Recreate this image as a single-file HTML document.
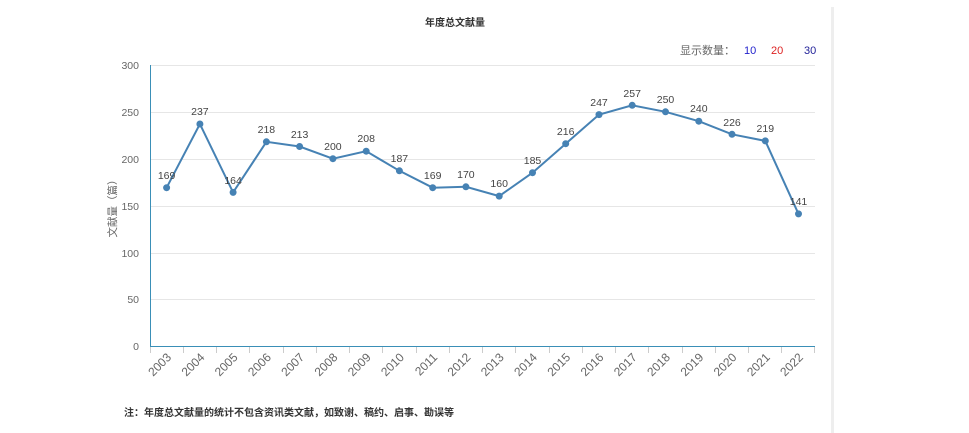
<!DOCTYPE html>
<html><head><meta charset="utf-8"><style>
body{margin:0;background:#fff;}
svg{display:block;font-family:"Liberation Sans","Noto Sans CJK SC",sans-serif;}
</style></head><body>
<svg width="969" height="433" viewBox="0 0 969 433" xmlns="http://www.w3.org/2000/svg">
<rect x="0" y="0" width="969" height="433" fill="#fff"/>
<rect x="831" y="7" width="3" height="426" fill="#eeeeee"/>
<text x="455" y="26" font-size="10" font-weight="bold" fill="#333" text-anchor="middle">年度总文献量</text>
<text x="680" y="54" font-size="11" fill="#666">显示数量：</text>
<text x="744" y="54" font-size="11" fill="#2222cc">10</text>
<text x="771" y="54" font-size="11" fill="#dd2222">20</text>
<text x="804" y="54" font-size="11" fill="#222299">30</text>
<g stroke="#e6e6e6" stroke-width="1">
<line x1="150" y1="65.5" x2="815" y2="65.5"/>
<line x1="150" y1="112.5" x2="815" y2="112.5"/>
<line x1="150" y1="159.5" x2="815" y2="159.5"/>
<line x1="150" y1="206.5" x2="815" y2="206.5"/>
<line x1="150" y1="253.5" x2="815" y2="253.5"/>
<line x1="150" y1="299.5" x2="815" y2="299.5"/>
</g>
<g font-size="10.5" fill="#666" text-anchor="end">
<text x="139" y="69">300</text><text x="139" y="116">250</text><text x="139" y="163">200</text>
<text x="139" y="210">150</text><text x="139" y="257">100</text><text x="139" y="303">50</text><text x="139" y="350">0</text>
</g>
<text transform="translate(116,206) rotate(-90)" font-size="10.5" fill="#666" text-anchor="middle">文献量（篇）</text>
<line x1="150.5" y1="65" x2="150.5" y2="346" stroke="#3a8fb7" stroke-width="1"/>
<line x1="150" y1="346.5" x2="815" y2="346.5" stroke="#3a8fb7" stroke-width="1"/>
<g stroke="#ccc" stroke-width="1">
<line x1="150.5" y1="347" x2="150.5" y2="353"/><line x1="183.5" y1="347" x2="183.5" y2="353"/><line x1="216.5" y1="347" x2="216.5" y2="353"/><line x1="249.5" y1="347" x2="249.5" y2="353"/><line x1="283.5" y1="347" x2="283.5" y2="353"/><line x1="316.5" y1="347" x2="316.5" y2="353"/><line x1="349.5" y1="347" x2="349.5" y2="353"/><line x1="382.5" y1="347" x2="382.5" y2="353"/><line x1="416.5" y1="347" x2="416.5" y2="353"/><line x1="449.5" y1="347" x2="449.5" y2="353"/><line x1="482.5" y1="347" x2="482.5" y2="353"/><line x1="515.5" y1="347" x2="515.5" y2="353"/><line x1="549.5" y1="347" x2="549.5" y2="353"/><line x1="582.5" y1="347" x2="582.5" y2="353"/><line x1="615.5" y1="347" x2="615.5" y2="353"/><line x1="648.5" y1="347" x2="648.5" y2="353"/><line x1="682.5" y1="347" x2="682.5" y2="353"/><line x1="715.5" y1="347" x2="715.5" y2="353"/><line x1="748.5" y1="347" x2="748.5" y2="353"/><line x1="781.5" y1="347" x2="781.5" y2="353"/><line x1="814.5" y1="347" x2="814.5" y2="353"/>
</g>
<g font-size="12" fill="#666" text-anchor="end">
<text transform="translate(172,358) rotate(-45)">2003</text>
<text transform="translate(205.3,358) rotate(-45)">2004</text>
<text transform="translate(238.5,358) rotate(-45)">2005</text>
<text transform="translate(271.8,358) rotate(-45)">2006</text>
<text transform="translate(305,358) rotate(-45)">2007</text>
<text transform="translate(338.3,358) rotate(-45)">2008</text>
<text transform="translate(371.6,358) rotate(-45)">2009</text>
<text transform="translate(404.8,358) rotate(-45)">2010</text>
<text transform="translate(438.1,358) rotate(-45)">2011</text>
<text transform="translate(471.3,358) rotate(-45)">2012</text>
<text transform="translate(504.6,358) rotate(-45)">2013</text>
<text transform="translate(537.9,358) rotate(-45)">2014</text>
<text transform="translate(571.1,358) rotate(-45)">2015</text>
<text transform="translate(604.4,358) rotate(-45)">2016</text>
<text transform="translate(637.6,358) rotate(-45)">2017</text>
<text transform="translate(670.9,358) rotate(-45)">2018</text>
<text transform="translate(704.2,358) rotate(-45)">2019</text>
<text transform="translate(737.4,358) rotate(-45)">2020</text>
<text transform="translate(770.7,358) rotate(-45)">2021</text>
<text transform="translate(803.9,358) rotate(-45)">2022</text>
</g>
<polyline fill="none" stroke="#4682b4" stroke-width="2" points="166.6,187.7 199.9,124.0 233.1,192.4 266.4,141.8 299.6,146.5 332.9,158.7 366.2,151.2 399.4,170.8 432.7,187.7 465.9,186.8 499.2,196.1 532.5,172.7 565.7,143.7 599.0,114.6 632.2,105.3 665.5,111.8 698.8,121.2 732.0,134.3 765.3,140.9 798.5,213.9"/>
<g fill="#4682b4">
<circle cx="166.6" cy="187.7" r="3.5"/><circle cx="199.9" cy="124.0" r="3.5"/><circle cx="233.1" cy="192.4" r="3.5"/><circle cx="266.4" cy="141.8" r="3.5"/><circle cx="299.6" cy="146.5" r="3.5"/><circle cx="332.9" cy="158.7" r="3.5"/><circle cx="366.2" cy="151.2" r="3.5"/><circle cx="399.4" cy="170.8" r="3.5"/><circle cx="432.7" cy="187.7" r="3.5"/><circle cx="465.9" cy="186.8" r="3.5"/><circle cx="499.2" cy="196.1" r="3.5"/><circle cx="532.5" cy="172.7" r="3.5"/><circle cx="565.7" cy="143.7" r="3.5"/><circle cx="599.0" cy="114.6" r="3.5"/><circle cx="632.2" cy="105.3" r="3.5"/><circle cx="665.5" cy="111.8" r="3.5"/><circle cx="698.8" cy="121.2" r="3.5"/><circle cx="732.0" cy="134.3" r="3.5"/><circle cx="765.3" cy="140.9" r="3.5"/><circle cx="798.5" cy="213.9" r="3.5"/>
</g>
<g font-size="10.5" fill="#444" text-anchor="middle">
<text x="166.6" y="179">169</text><text x="199.9" y="115">237</text><text x="233.1" y="184">164</text><text x="266.4" y="133">218</text><text x="299.6" y="138">213</text><text x="332.9" y="150">200</text><text x="366.2" y="142">208</text><text x="399.4" y="162">187</text><text x="432.7" y="179">169</text><text x="465.9" y="178">170</text><text x="499.2" y="187">160</text><text x="532.5" y="164">185</text><text x="565.7" y="135">216</text><text x="599.0" y="106">247</text><text x="632.2" y="97">257</text><text x="665.5" y="103">250</text><text x="698.8" y="112">240</text><text x="732.0" y="126">226</text><text x="765.3" y="132">219</text><text x="798.5" y="205">141</text>
</g>
<text x="124" y="416" font-size="10" font-weight="bold" fill="#333">注：年度总文献量的统计不包含资讯类文献，如致谢、稿约、启事、勘误等</text>
</svg>
</body></html>
